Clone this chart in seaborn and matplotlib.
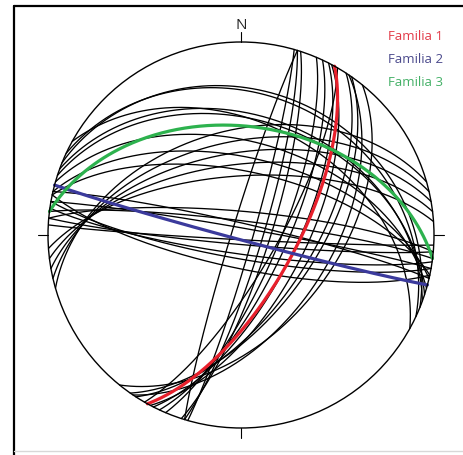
import numpy as np
import pandas as pd
import matplotlib
matplotlib.use("Agg")
import matplotlib.pyplot as plt
from matplotlib.patches import Circle
from matplotlib.lines import Line2D
import seaborn as sns

# Discontinuity planes (strike, right-hand rule, and dip in degrees)
black_strike = [16, 17, 18, 23, 25, 27, 28, 30, 33, 34, 35, 39, 197,
                275, 277, 280, 93, 95, 98, 100, 102, 283,
                292, 295, 290, 288, 299, 286, 283, 282,
                254, 257, 260, 263, 266]
black_dip = [85, 81, 78, 74, 71, 67, 63, 75, 60, 52, 58, 50, 86,
             80, 84, 87, 88, 86, 82, 80, 76, 85,
             26, 28, 38, 40, 42, 50, 57, 63,
             45, 50, 55, 60, 65]

# Mean planes of the three joint families
family_names = ["Familia 1", "Familia 2", "Familia 3"]
family_strike = [29, 105, 277]
family_dip = [67, 88, 43]
family_colors = ["#e8202c", "#3b3a9c", "#2db24e"]
label_colors = ["#e23a48", "#4b4a8c", "#43b066"]


def great_circle(strike, dip, n=241):
    """Lower-hemisphere equal-area (Schmidt) trace of a plane."""
    s = np.radians(strike)
    dd = np.radians(strike + 90.0)
    d = np.radians(dip)
    t = np.linspace(0.0, np.pi, n)
    north = np.cos(t) * np.cos(s) + np.sin(t) * np.cos(d) * np.cos(dd)
    east = np.cos(t) * np.sin(s) + np.sin(t) * np.cos(d) * np.sin(dd)
    down = np.sin(t) * np.sin(d)
    plunge = np.arcsin(np.clip(down, -1, 1))
    trend = np.arctan2(east, north)
    r = np.sqrt(2.0) * np.sin((np.pi / 2 - plunge) / 2.0)
    return r * np.sin(trend), r * np.cos(trend)


rows = []
for i, (st, dp) in enumerate(zip(black_strike, black_dip)):
    x, y = great_circle(st, dp)
    rows.append(pd.DataFrame({"x": x, "y": y, "plane": i}))
black_df = pd.concat(rows, ignore_index=True)

rows = []
for name, st, dp in zip(family_names, family_strike, family_dip):
    x, y = great_circle(st, dp)
    rows.append(pd.DataFrame({"x": x, "y": y, "familia": name}))
fam_df = pd.concat(rows, ignore_index=True)

sns.set_theme(style="white")
plt.rcParams["font.family"] = ["Open Sans", "DejaVu Sans"]

W, H = 464, 456
fig = plt.figure(figsize=(W / 100, H / 100), dpi=100)
fig.patch.set_facecolor("white")

cx, cy, R = 241, 236, 193
ax = fig.add_axes([(cx - R) / W, (H - cy - R) / H, 2 * R / W, 2 * R / H])
ax.set_xlim(-1, 1)
ax.set_ylim(-1, 1)
ax.set_aspect("equal")
ax.axis("off")

sns.lineplot(data=black_df, x="x", y="y", units="plane", estimator=None,
             sort=False, color="black", linewidth=0.95, ax=ax, legend=False)
sns.lineplot(data=fam_df, x="x", y="y", hue="familia", units="familia",
             estimator=None, sort=False,
             palette=dict(zip(family_names, family_colors)),
             linewidth=2.3, ax=ax, legend=False)

# Primitive circle and cardinal ticks
ax.add_patch(Circle((0, 0), 1.0, fill=False, ec="black", lw=1.0,
                    clip_on=False, zorder=5))
tk = 10 / R
for x0, y0, x1, y1 in [(0, 1, 0, 1 + tk), (0, -1, 0, -1 - tk),
                       (-1, 0, -1 - tk, 0), (1, 0, 1 + tk, 0)]:
    ax.plot([x0, x1], [y0, y1], color="black", lw=0.8, clip_on=False)
ax.text(0, 1 + 18 / R, "N", ha="center", va="center", fontsize=11,
        color="#222222")

# Legend labels
for k, (name, c) in enumerate(zip(family_names, label_colors)):
    fig.text(416 / W, 1 - (37 + 22.5 * k) / H, name, ha="center",
             va="center", fontsize=9.5, color=c)

# Frame lines around the figure
fig.add_artist(Line2D([14 / W, 1], [1 - 7 / H, 1 - 7 / H], color="black",
                      lw=1.6, transform=fig.transFigure))
fig.add_artist(Line2D([14 / W, 14 / W], [0, 1 - 7 / H], color="black",
                      lw=1.6, transform=fig.transFigure))
fig.add_artist(Line2D([14 / W, 1], [1 - 452 / H, 1 - 452 / H],
                      color="#d8d8d8", lw=1.0, transform=fig.transFigure))

fig.savefig("out.png", dpi=100, facecolor="white")
